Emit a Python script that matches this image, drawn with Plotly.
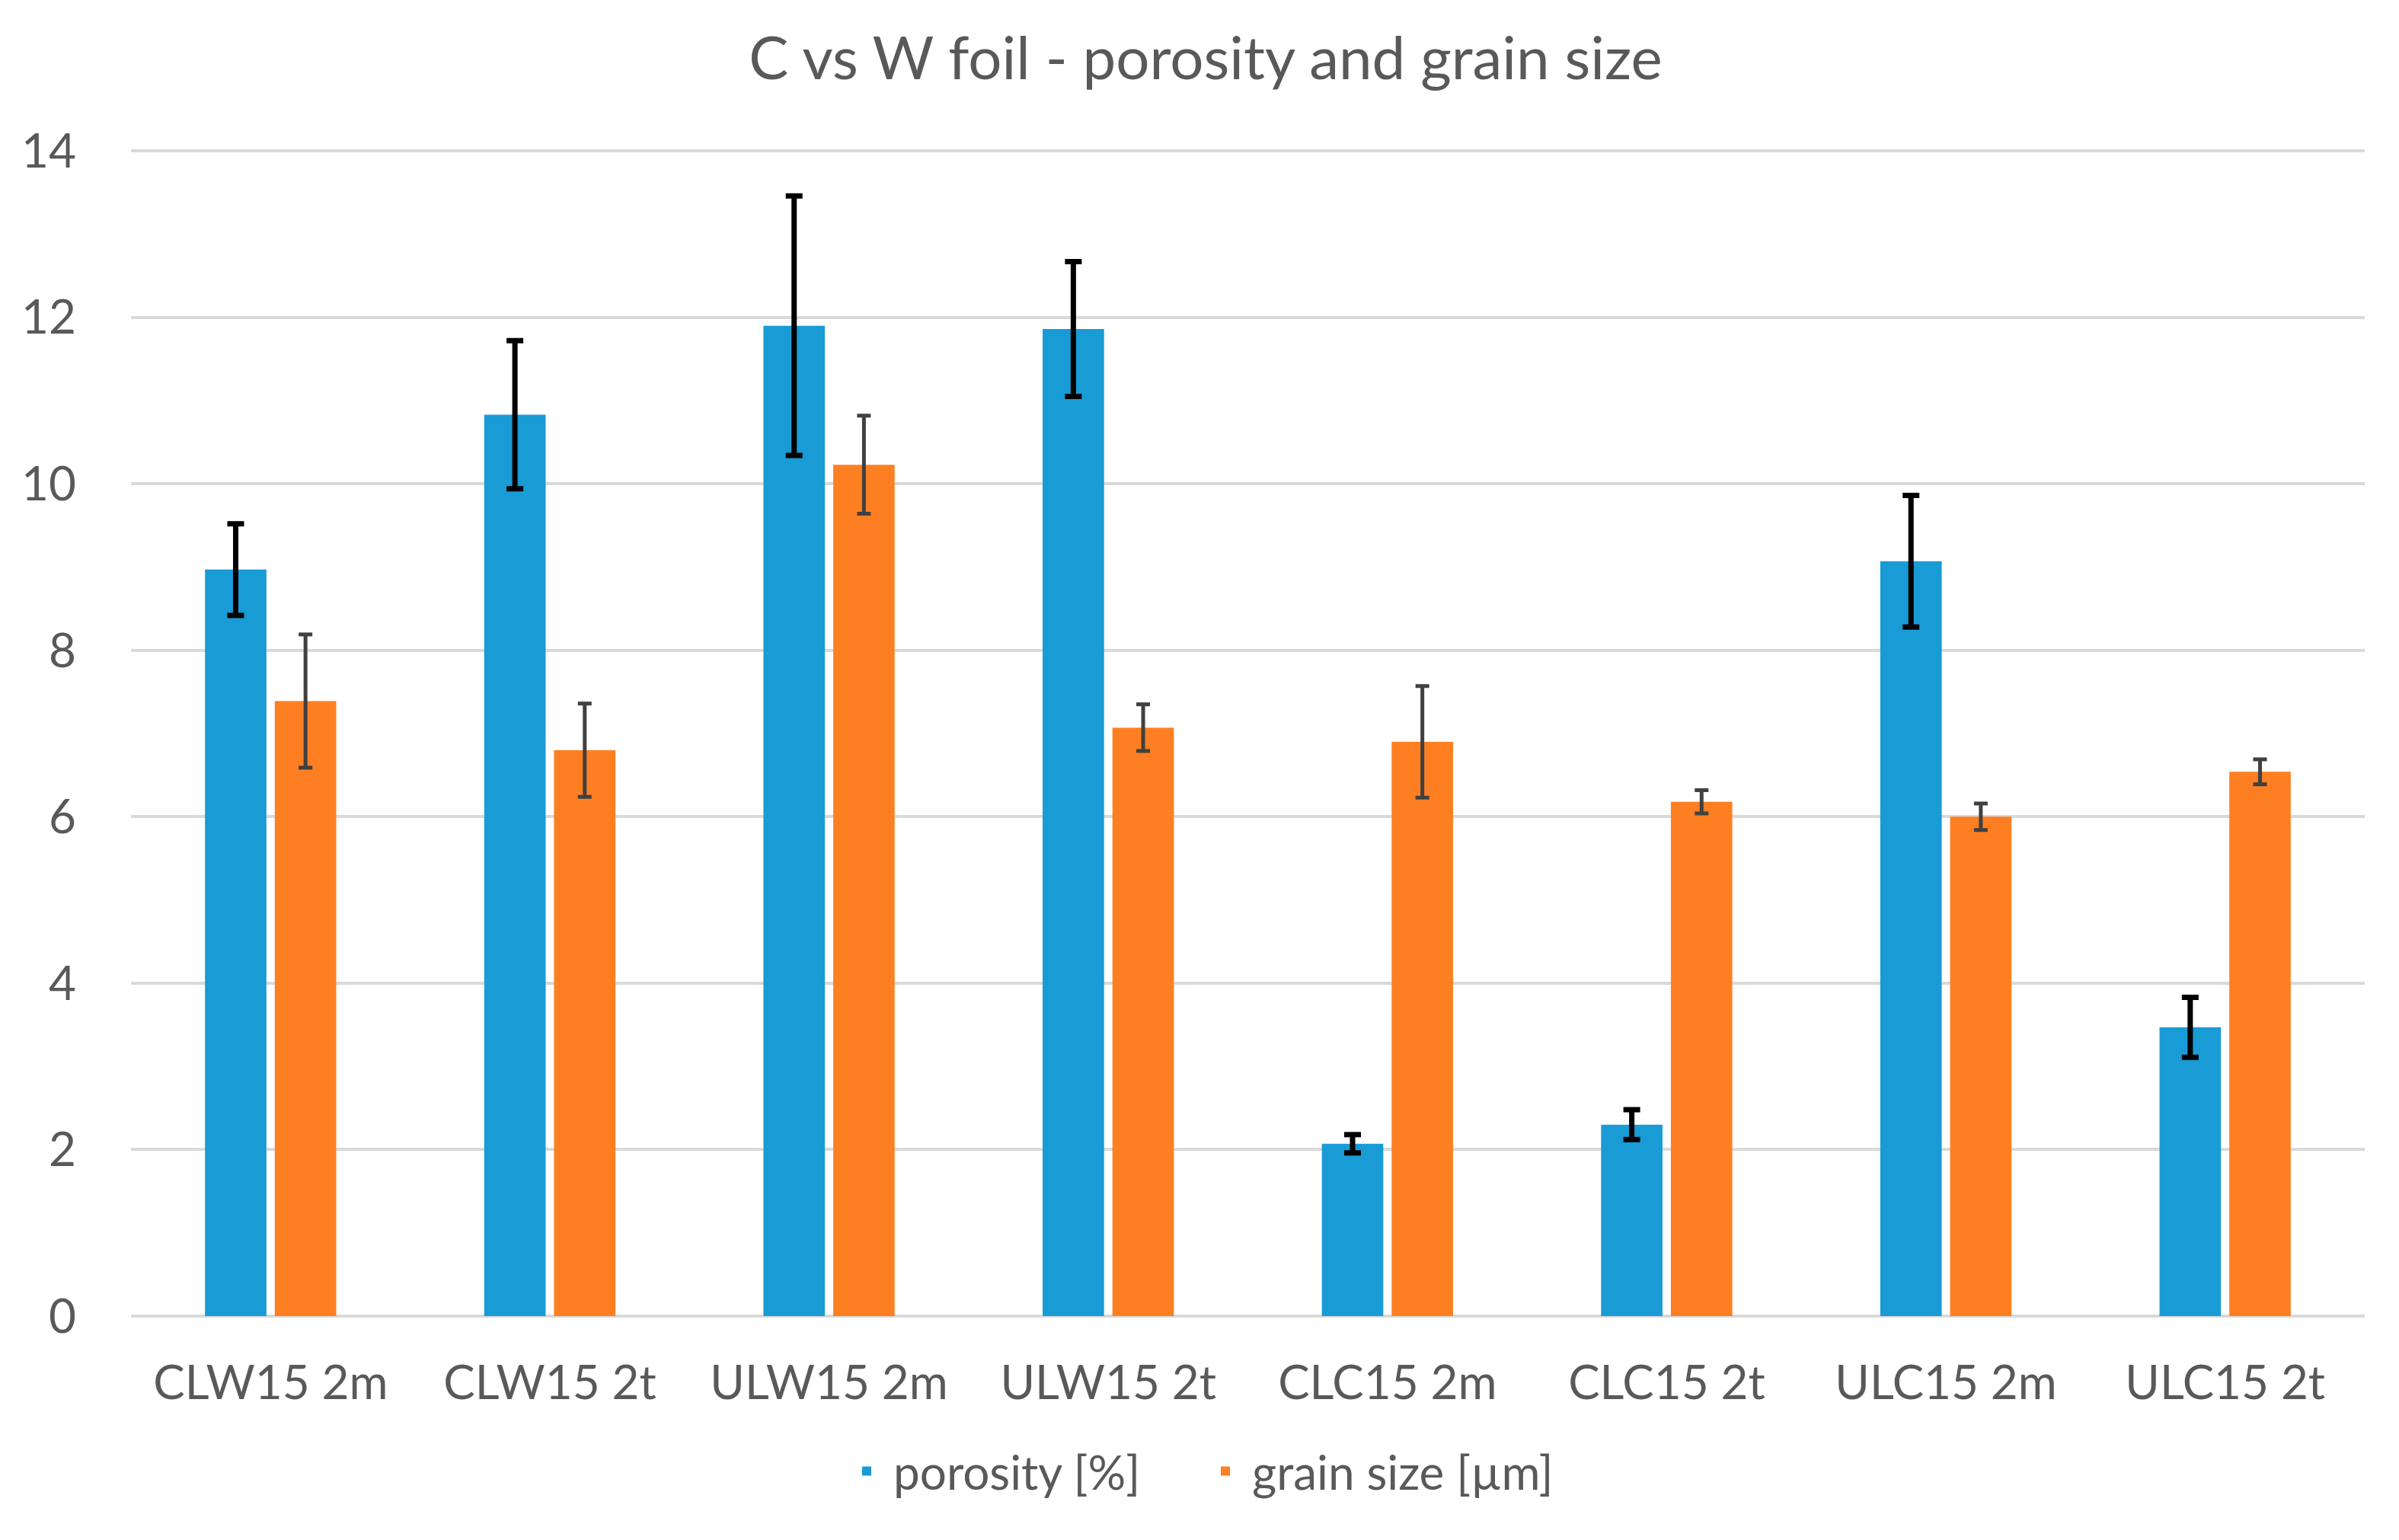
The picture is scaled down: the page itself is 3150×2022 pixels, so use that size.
import plotly.graph_objects as go

categories = ["CLW15 2m", "CLW15 2t", "ULW15 2m", "ULW15 2t",
              "CLC15 2m", "CLC15 2t", "ULC15 2m", "ULC15 2t"]
porosity = [8.97, 10.83, 11.90, 11.86, 2.07, 2.30, 9.07, 3.47]
porosity_err = [0.55, 0.89, 1.56, 0.81, 0.11, 0.18, 0.79, 0.36]
grain = [7.39, 6.80, 10.23, 7.07, 6.90, 6.18, 6.00, 6.54]
grain_err = [0.80, 0.56, 0.59, 0.28, 0.67, 0.14, 0.16, 0.15]

FONT = "Lato"
TXT = "#595959"
GRID = "#d9d9d9"

fig = go.Figure()
fig.add_trace(go.Bar(
    x=categories, y=porosity, name="porosity [%]",
    marker=dict(color="#199BD6", line=dict(width=0)),
    error_y=dict(type="data", array=porosity_err, visible=True,
                 color="#000000", thickness=7, width=11),
))
fig.add_trace(go.Bar(
    x=categories, y=grain, name="grain size [µm]",
    marker=dict(color="#FE7F22", line=dict(width=0)),
    error_y=dict(type="data", array=grain_err, visible=True,
                 color="#404040", thickness=5, width=9),
))

fig.update_layout(
    width=3150, height=2022,
    margin=dict(l=164, r=53, t=188, b=302),
    paper_bgcolor="white", plot_bgcolor="white",
    barmode="group", bargap=0.5, bargroupgap=0.12,
    font=dict(family=FONT, size=62, color=TXT),
    title=dict(text="C vs W foil - porosity and grain size",
               x=0.5, xref="container", xanchor="center",
               y=1 - 69 / 2022, yref="container", yanchor="middle",
               font=dict(family=FONT, size=78, color=TXT)),
    legend=dict(orientation="h", x=0.478, xanchor="center",
                y=-0.133, yanchor="middle",
                font=dict(family=FONT, size=62, color=TXT),
                entrywidth=396, entrywidthmode="pixels",
                itemwidth=60, tracegroupgap=0),
    showlegend=True,
)
fig.update_xaxes(showgrid=False, showline=False, zeroline=False,
                 ticks="", ticklabelstandoff=46,
                 tickfont=dict(family=FONT, size=62, color=TXT))
fig.update_yaxes(range=[0, 14.02], tickvals=[0, 2, 4, 6, 8, 10, 12, 14],
                 showgrid=True, gridcolor=GRID, gridwidth=4,
                 zeroline=True, zerolinecolor=GRID, zerolinewidth=4,
                 showline=False, ticks="", ticklabelstandoff=71,
                 tickfont=dict(family=FONT, size=62, color=TXT))

fig.write_html("out.html")
